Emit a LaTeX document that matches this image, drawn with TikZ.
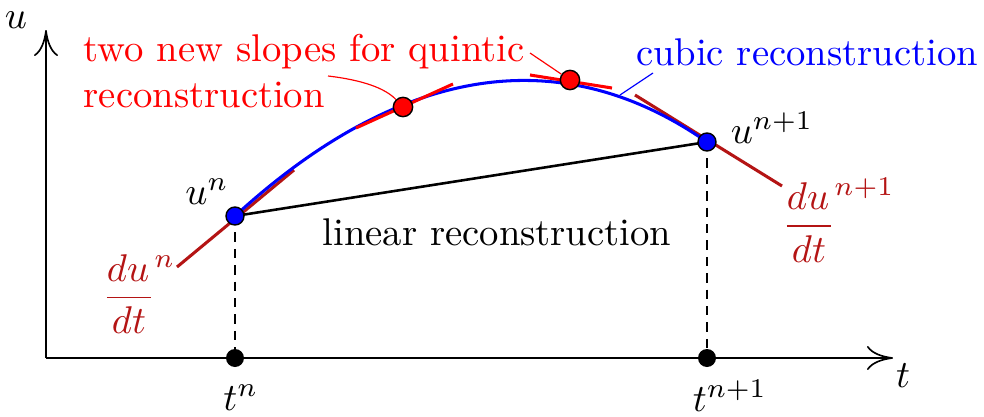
\documentclass[tikz,border=0pt]{standalone}
\usepackage{amsmath}
\usetikzlibrary{arrows.meta,positioning}
\definecolor{slopered}{RGB}{180,20,20}
\definecolor{quinred}{RGB}{255,0,0}
\definecolor{cubblue}{RGB}{0,0,255}

\begin{document}
\begin{tikzpicture}[
    x=0.015cm, y=-0.015cm,
    lbl/.style={scale=1.65, transform shape, inner sep=0.5pt},
    axis/.style={line width=0.7pt, ->},
    bdot/.style={circle, draw=black, fill=cubblue, line width=0.6pt, minimum size=0.27cm, inner sep=0pt},
    rdot/.style={circle, draw=black, fill=quinred, line width=0.6pt, minimum size=0.29cm, inner sep=0pt},
    kdot/.style={circle, fill=black, minimum size=0.27cm, inner sep=0pt},
    slope/.style={slopered, line width=1.3pt},
    qslope/.style={quinred, line width=1.3pt},
    drop/.style={dashed, line width=0.6pt, dash pattern=on 4pt off 3pt},
    >={Computer Modern Rightarrow[length=3.9mm,width=3.6mm]}
]
\useasboundingbox (0,0) rectangle (984,417);

% axes
\coordinate (o) at (46,358);
\coordinate (utop) at (46,30);
\coordinate (tend) at (893,358);
\draw[axis] (o) -- (utop);
\draw[axis] (o) -- (tend);
\node[lbl] (ulab) at (16,20) {$u$};
\node[lbl] (tlab) at (903,376) {$t$};

% points
\coordinate (un) at (235,216);
\coordinate (un1) at (707,142);
\coordinate (tn) at (235,358);
\coordinate (tn1) at (707,358);
\coordinate (q1) at (403,107);
\coordinate (q2) at (570,80);

% slopes at the end points
\coordinate (sa) at (177,267);
\coordinate (sb) at (294,170);
\coordinate (sc) at (635,95);
\coordinate (sd) at (782,186);
\draw[slope] (sa) -- (sb);
\draw[slope] (sc) -- (sd);

% cubic and linear
\draw[cubblue, line width=1.3pt] (un) .. controls (390,74) and (552,34) .. (un1);
\draw[line width=1.1pt] (un) -- (un1);
\draw[drop] (un) -- (tn);
\draw[drop] (un1) -- (tn1);

% new slopes
\coordinate (qa) at (356,128);
\coordinate (qb) at (453,84);
\coordinate (qc) at (530,75);
\coordinate (qd) at (612,88);
\draw[qslope] (qa) -- (qb);
\draw[qslope] (qc) -- (qd);

% dots
\node[bdot] (undot) at (un) {};
\node[bdot] (un1dot) at (un1) {};
\node[kdot] (tndot) at (tn) {};
\node[kdot] (tn1dot) at (tn1) {};
\node[rdot] (q1dot) at (q1) {};
\node[rdot] (q2dot) at (q2) {};

% labels
\node[lbl] (unlab) at (207,192) {$u^n$};
\node[lbl] (un1lab) at (772,128) {$u^{n+1}$};
\node[lbl, text=slopered] (dun) at (129,294) {$\dfrac{du^{\rlap{$\scriptstyle\,n$}}}{dt}$};
\node[lbl, text=slopered] (dun1) at (809,220) {$\dfrac{du^{\rlap{$\scriptstyle\,n+1$}}}{dt}$};
\node[lbl] (tnlab) at (241,398) {$t^n$};
\node[lbl] (tn1lab) at (730,396) {$t^{n+1}$};
\node[lbl] (lin) at (497,232) {linear reconstruction};
\node[lbl, text=cubblue] (cub) at (807,52) {cubic reconstruction};
\node[lbl, text=quinred, align=left, anchor=west, inner sep=0pt] (quin) at (83,71)
    {two new slopes for quintic\\reconstruction};

% pointers
\coordinate (p1) at (328,76);
\coordinate (p2) at (530,53);
\coordinate (p3) at (653,73);
\coordinate (p4) at (620,95);
\draw[quinred, line width=0.5pt] (p1) .. controls (362,80) and (385,88) .. (q1dot);
\draw[quinred, line width=0.5pt] (p2) -- (q2dot);
\draw[cubblue, line width=0.5pt] (p3) -- (p4);
\end{tikzpicture}
\end{document}
